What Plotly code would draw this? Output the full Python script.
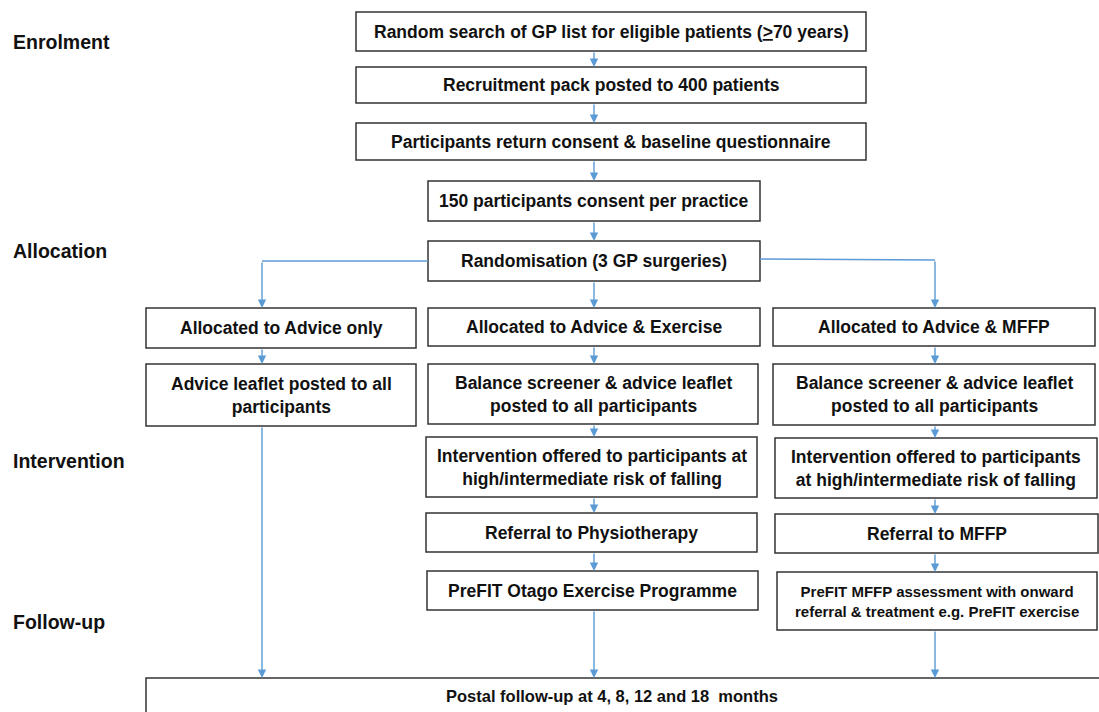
import plotly.graph_objects as go

# ---- content ----
stage_labels = ["Enrolment", "Allocation", "Intervention", "Follow-up"]
stage_y = [42, 251, 461, 622]

box_labels = [
    "Random search of GP list for eligible patients (<u>></u>70 years)",
    "Recruitment pack posted to 400 patients",
    "Participants return consent & baseline questionnaire",
    "150 participants consent per practice",
    "Randomisation (3 GP surgeries)",
    "Allocated to Advice only",
    "Allocated to Advice & Exercise",
    "Allocated to Advice & MFFP",
    "Advice leaflet posted to all<br>participants",
    "Balance screener & advice leaflet<br>posted to all participants",
    "Balance screener & advice leaflet<br>posted to all participants",
    "Intervention offered to participants at<br>high/intermediate risk of falling",
    "Intervention offered to participants<br>at high/intermediate risk of falling",
    "Referral to Physiotherapy",
    "Referral to MFFP",
    "PreFIT Otago Exercise Programme",
    "PreFIT MFFP assessment with onward<br>referral & treatment e.g. PreFIT exercise",
    "Postal follow-up at 4, 8, 12 and 18  months",
]

# ---- layout geometry (pixels) ----
box_geom = [
    (356, 12, 866, 51),
    (356, 67, 866, 103),
    (356, 123, 866, 160),
    (428, 181, 760, 221),
    (428, 241, 760, 281),
    (146, 308, 416, 348),
    (428, 308, 760, 346),
    (773, 308, 1095, 346),
    (146, 364, 416, 426),
    (428, 364, 758, 424),
    (773, 364, 1095, 425),
    (426, 437, 757, 497),
    (775, 438, 1097, 498),
    (426, 513, 757, 552),
    (775, 514, 1098, 553),
    (427, 571, 758, 610),
    (777, 572, 1097, 630),
    (146, 678, 1110, 730),
]
box_font = [17.5] * len(box_labels)
box_font[16] = 15
box_font[17] = 16.5

W, H = 1099, 712
BLUE = "#5B9BD5"
EDGE = "#333333"
FONT = "Liberation Sans Narrow, Arial Narrow, Liberation Sans, Arial, sans-serif"

fig = go.Figure()
fig.add_trace(go.Scatter(x=[0, W], y=[0, H], mode="markers",
                         marker=dict(opacity=0), hoverinfo="skip", showlegend=False))

shapes = []
annotations = []

for (x0, y0, x1, y1), lab, fs in zip(box_geom, box_labels, box_font):
    shapes.append(dict(type="rect", xref="x", yref="y", x0=x0, y0=y0, x1=x1, y1=y1,
                       line=dict(color=EDGE, width=1.5), fillcolor="white", layer="below"))
    inside = y1 <= H
    annotations.append(dict(x=(x0 + x1) / 2 if inside else 612,
                            y=(y0 + y1) / 2 if inside else 696,
                            xref="x", yref="y",
                            text="<b>" + lab + "</b>", showarrow=False,
                            font=dict(family=FONT, size=fs, color="#111111"),
                            align="center"))

for lab, y in zip(stage_labels, stage_y):
    annotations.append(dict(x=11, y=y, xref="x", yref="y", text="<b>" + lab + "</b>",
                            showarrow=False, xanchor="left",
                            font=dict(family="Liberation Sans, Arial, sans-serif", size=19.5,
                                      color="#111111")))

def arrow(x, y_from, y_to):
    annotations.append(dict(x=x, y=y_to, ax=x, ay=y_from, xref="x", yref="y",
                            axref="x", ayref="y", text="", showarrow=True,
                            arrowhead=2, arrowsize=1.2, arrowwidth=1.4,
                            arrowcolor=BLUE, standoff=0, startstandoff=0))

def line(x0, y0, x1, y1):
    shapes.append(dict(type="line", xref="x", yref="y", x0=x0, y0=y0, x1=x1, y1=y1,
                       line=dict(color=BLUE, width=1.4)))

# vertical arrows in central column
for a, b in [(51, 67), (103, 123), (160, 181), (221, 241), (281, 308),
             (346, 364), (424, 437), (497, 513), (552, 571), (610, 678)]:
    arrow(594, a, b)
# right column
line(760, 259, 935, 260)
for a, b in [(260, 308), (346, 364), (425, 438), (498, 514), (553, 572), (630, 678)]:
    arrow(935, a, b)
# left column
line(428, 261, 262, 261)
for a, b in [(261, 308), (348, 364), (426, 678)]:
    arrow(262, a, b)

fig.update_layout(
    width=W, height=H, margin=dict(l=0, r=0, t=0, b=0),
    plot_bgcolor="white", paper_bgcolor="white",
    xaxis=dict(range=[0, W], visible=False, fixedrange=True),
    yaxis=dict(range=[H, 0], visible=False, fixedrange=True),
    shapes=shapes, annotations=annotations, showlegend=False,
)

fig.write_html("out.html", config={"displayModeBar": False},
               post_script="document.body.style.margin='0px';document.body.style.overflow='hidden';")
